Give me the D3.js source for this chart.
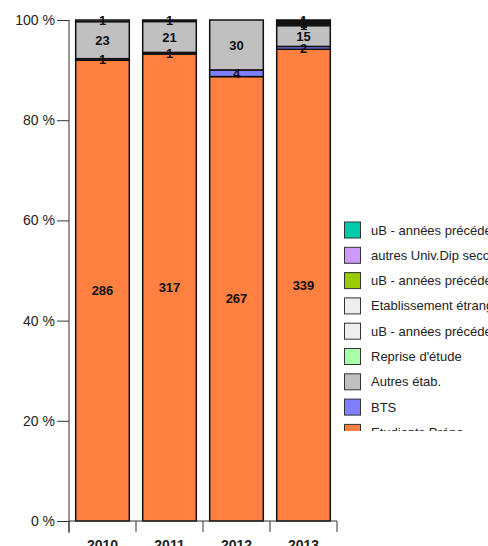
<!DOCTYPE html>
<html>
<head>
<meta charset="utf-8">
<script src="https://cdn.jsdelivr.net/npm/d3@7"></script>
<style>
  body { margin: 0; background: #fff; }
  text { font-family: "Liberation Sans", Arial, sans-serif; }
</style>
</head>
<body>
<div id="chart"></div>
<script>
//chart data
const years = ["2010", "2011", "2012", "2013"];

//series, from bottom of the stack to the top
const seriesNames = [
  "Etudiants Prépa",
  "BTS",
  "Autres étab.",
  "Reprise d'étude",
  "uB - années précédentes (autre)",
  "Etablissement étranger",
  "uB - années précédentes (L2)",
  "autres Univ.Dip secondaire",
  "uB - années précédentes (L1)"
];
const seriesColors = ["#ff8040", "#8080ff", "#c0c0c0", "#aaffaa", "#eeeeee", "#eeeeee", "#99cc00", "#cc99ff", "#00ccaa"];

const etudiants  = [286, 317, 267, 339];
const bts        = [1, 1, 4, 2];
const autresEtab = [23, 21, 30, 15];
const reprise    = [0, 0, 0, 1];
const ubAutre    = [1, 1, 0, 1];
const etranger   = [0, 0, 0, 1];
const ubL2       = [0, 0, 0, 1];
const autresUniv = [0, 0, 0, 0];
const ubL1       = [0, 0, 0, 0];

const seriesValues = [etudiants, bts, autresEtab, reprise, ubAutre, etranger, ubL2, autresUniv, ubL1];
const yTicks = [0, 20, 40, 60, 80, 100];

//dimensions
const width = 488;
const height = 546;
const margin = { top: 20, left: 69, right: 151, bottom: 25 };

const svg = d3.select("#chart")
  .append("svg")
  .attr("width", width)
  .attr("height", height);

//build table of rows for stacking
const rows = years.map((y, i) => {
  const row = { year: y };
  seriesNames.forEach((s, k) => { row[s] = seriesValues[k][i]; });
  return row;
});

const stack = d3.stack().keys(seriesNames).offset(d3.stackOffsetExpand);
const stacked = stack(rows);

const x = d3.scaleBand()
  .domain(years)
  .range([margin.left, width - margin.right])
  .paddingInner(0.2)
  .paddingOuter(0.1);

const y = d3.scaleLinear()
  .domain([0, 1])
  .range([height - margin.bottom, margin.top]);

//bars
const layer = svg.selectAll("g.layer")
  .data(stacked)
  .enter()
  .append("g")
  .attr("class", "layer")
  .attr("fill", (d, i) => seriesColors[i]);

layer.selectAll("rect")
  .data(d => d.map(p => ({ p: p, key: d.key })))
  .enter()
  .append("rect")
  .filter(d => d.p[1] - d.p[0] > 0)
  .attr("x", d => x(d.p.data.year))
  .attr("width", x.bandwidth())
  .attr("y", d => y(d.p[1]))
  .attr("height", d => y(d.p[0]) - y(d.p[1]))
  .attr("stroke", "#111")
  .attr("stroke-width", 1.5);

//value labels
stacked.forEach(s => {
  s.forEach(p => {
    const v = p.data[s.key];
    if (v > 0) {
      svg.append("text")
        .attr("x", x(p.data.year) + x.bandwidth() / 2)
        .attr("y", (y(p[0]) + y(p[1])) / 2)
        .attr("dy", "0.36em")
        .attr("text-anchor", "middle")
        .attr("font-size", 13)
        .attr("font-weight", "bold")
        .attr("fill", "#111")
        .text(v);
    }
  });
});

//y axis
const yAxis = svg.append("g")
  .attr("transform", `translate(${margin.left},0)`)
  .call(d3.axisLeft(y)
    .tickValues(yTicks.map(t => t / 100))
    .tickFormat(t => Math.round(t * 100) + " %")
    .tickSize(12)
    .tickSizeOuter(0));
yAxis.select(".domain").attr("stroke", "#333").attr("d", `M0,${margin.top}V${height - margin.bottom + 12}`);
yAxis.selectAll(".tick line").attr("stroke", "#333");
yAxis.selectAll(".tick text")
  .attr("font-size", 14)
  .attr("fill", "#222")
  .attr("x", -14);

//x axis
const xRight = x.range()[1];
const xAxis = svg.append("g");
xAxis.append("line")
  .attr("x1", margin.left).attr("x2", xRight)
  .attr("y1", y(0)).attr("y2", y(0))
  .attr("stroke", "#333");
const step = x.step();
const bounds = years.map(yr => x(yr) - x.paddingInner() * step / 2).concat([xRight]);
xAxis.selectAll("line.sep")
  .data(bounds)
  .enter()
  .append("line")
  .attr("class", "sep")
  .attr("x1", d => d).attr("x2", d => d)
  .attr("y1", y(0)).attr("y2", y(0) + 11)
  .attr("stroke", "#333");
xAxis.selectAll("text")
  .data(years)
  .enter()
  .append("text")
  .attr("x", d => x(d) + x.bandwidth() / 2)
  .attr("y", y(0) + 29)
  .attr("text-anchor", "middle")
  .attr("font-size", 14)
  .attr("font-weight", "bold")
  .attr("fill", "#222")
  .text(d => d);

//legend, clipped like the original
svg.append("clipPath")
  .attr("id", "legclip")
  .append("rect")
  .attr("x", 340).attr("y", 212)
  .attr("width", 148).attr("height", 219);

const legend = svg.append("g").attr("clip-path", "url(#legclip)");
const legendOrder = seriesNames.map((n, i) => i).reverse();
legendOrder.forEach((k, row) => {
  const ly = 222 + row * 25.3;
  legend.append("rect")
    .attr("x", 344.5).attr("y", ly)
    .attr("width", 16).attr("height", 16)
    .attr("fill", seriesColors[k])
    .attr("stroke", "#333");
  legend.append("text")
    .attr("x", 371).attr("y", ly + 8)
    .attr("dy", "0.35em")
    .attr("font-size", 13)
    .attr("fill", "#222")
    .text(seriesNames[k]);
});
</script>
</body>
</html>
